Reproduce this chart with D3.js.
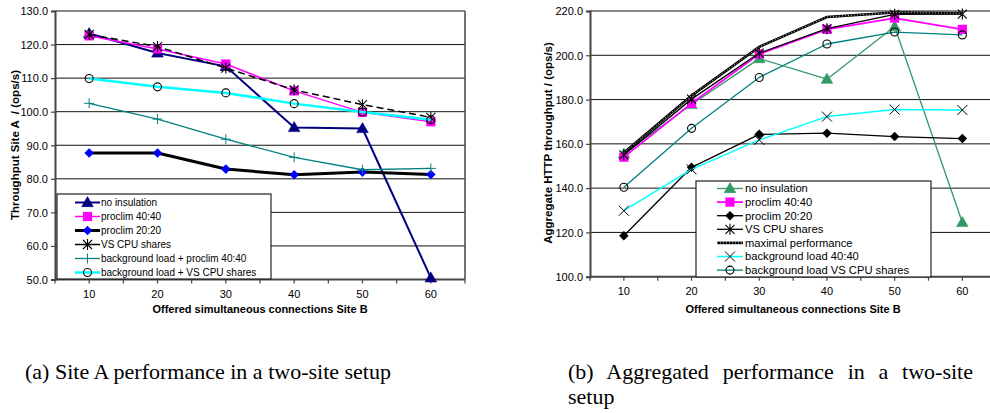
<!DOCTYPE html>
<html>
<head>
<meta charset="utf-8">
<script src="https://cdn.jsdelivr.net/npm/d3@7"></script>
<style>
  html, body { margin: 0; padding: 0; background: #fff; }
  svg { display: block; }
  .tick-label { font-family: Arial, "Liberation Sans", sans-serif; font-size: 11px; fill: #000; }
  .axis-title { font-family: Arial, "Liberation Sans", sans-serif; font-size: 11px; font-weight: bold; fill: #000; white-space: pre; }
  .legend-text { font-family: Arial, "Liberation Sans", sans-serif; fill: #000; }
  .caption { font-family: "Times New Roman", "Liberation Serif", serif; font-size: 22px; fill: #000; }
</style>
</head>
<body>
<svg id="chart" width="990" height="413"></svg>
<script>
// Offered simultaneous connections at Site B
const categories = [10, 20, 30, 40, 50, 60];

// (a) Throughput at Site A (ops/s)
const aNoInsulation = [123.3, 117.5, 113.5, 95.3, 95.0, 50.5];
const aProclim4040  = [122.6, 118.7, 114.2, 106.2, 99.8, 97.0];
const aProclim2020  = [87.7, 87.7, 82.9, 81.2, 82.0, 81.3];
const aVsCpuShares  = [123.0, 119.4, 113.0, 106.5, 102.1, 98.3];
const aBgProclim    = [102.5, 97.8, 91.8, 86.4, 82.7, 83.1];
const aBgVsCpu      = [109.9, 107.4, 105.6, 102.4, 99.9, 97.6];

// (b) Aggregate HTTP throughput (ops/s)
const bNoInsulation = [155.5, 177.8, 198.5, 189.2, 213.0, 124.5];
const bProclim4040  = [154.0, 178.3, 200.6, 211.7, 216.8, 211.7];
const bProclim2020  = [118.5, 149.4, 164.3, 164.8, 163.3, 162.4];
const bVsCpuShares  = [155.0, 180.2, 201.0, 212.0, 218.5, 218.6];
const bMaximal      = [156.0, 181.8, 203.8, 217.3, 219.3, 219.0];
const bBgLoad4040   = [129.8, 148.5, 161.8, 172.3, 175.5, 175.3];
const bBgVsCpu      = [140.4, 167.0, 190.0, 205.1, 210.5, 209.2];

// Axis tick values
const aTicks = [50, 60, 70, 80, 90, 100, 110, 120, 130];
const bTicks = [100, 120, 140, 160, 180, 200, 220];

const svg = d3.select("#chart");
svg.append("rect").attr("width", 990).attr("height", 413).attr("fill", "#fff");

// ---------- marker shapes ----------
function drawMarker(g, type, x, y, color) {
  const s = 4.6;
  switch (type) {
    case "triangle":
      g.append("path").attr("d", d3.symbol(d3.symbolTriangle, 58)()).attr("transform", `translate(${x},${y + 0.8})`)
        .attr("fill", color).attr("stroke", color).attr("stroke-width", 0.6);
      break;
    case "square":
      g.append("rect").attr("x", x - s).attr("y", y - s).attr("width", 2 * s).attr("height", 2 * s).attr("fill", color);
      break;
    case "diamond":
      g.append("path").attr("d", `M${x},${y - 4.8}L${x + 4.8},${y}L${x},${y + 4.8}L${x - 4.8},${y}Z`).attr("fill", color);
      break;
    case "asterisk":
      g.append("path").attr("d", `M${x - 4.5},${y - 4.5}L${x + 4.5},${y + 4.5}M${x - 4.5},${y + 4.5}L${x + 4.5},${y - 4.5}M${x},${y - 5.5}L${x},${y + 5.5}`)
        .attr("stroke", color).attr("stroke-width", 1.1).attr("fill", "none");
      break;
    case "plus":
      g.append("path").attr("d", `M${x - 5},${y}L${x + 5},${y}M${x},${y - 5}L${x},${y + 5}`)
        .attr("stroke", color).attr("stroke-width", 1).attr("fill", "none");
      break;
    case "cross":
      g.append("path").attr("d", `M${x - 5},${y - 5}L${x + 5},${y + 5}M${x - 5},${y + 5}L${x + 5},${y - 5}`)
        .attr("stroke", color).attr("stroke-width", 1).attr("fill", "none");
      break;
    case "circle":
      g.append("circle").attr("cx", x).attr("cy", y).attr("r", 4).attr("fill", "none")
        .attr("stroke", color).attr("stroke-width", 1.1);
      break;
  }
}

function drawLine(g, pts, st, inLegend) {
  const line = d3.line().x(d => d[0]).y(d => d[1]);
  if (st.dotted) {
    g.append("path").attr("d", line(pts)).attr("fill", "none").attr("stroke", "#000").attr("stroke-width", 2.6);
    g.append("path").attr("d", line(pts)).attr("fill", "none").attr("stroke", "#fff").attr("stroke-width", 0.8)
      .attr("stroke-dasharray", "1,2");
  } else {
    g.append("path").attr("d", line(pts)).attr("fill", "none").attr("stroke", st.color)
      .attr("stroke-width", st.width).attr("stroke-dasharray", (!inLegend && st.dash) || null)
      .attr("stroke-linejoin", "round");
  }
}

// ---------- one chart panel ----------
function panel(cfg) {
  const g = svg.append("g");
  const x = d3.scaleBand().domain(categories).range([cfg.left, cfg.left + cfg.band * categories.length]);
  const y = d3.scaleLinear().domain(cfg.domain).range([cfg.bottom, cfg.top]);
  const cx = c => x(c) + x.bandwidth() / 2;

  // horizontal gridlines
  g.append("g").selectAll("line").data(cfg.ticks.slice(1)).join("line")
    .attr("x1", cfg.left).attr("x2", cfg.gridRight)
    .attr("y1", d => y(d)).attr("y2", d => y(d))
    .attr("stroke", "#111").attr("stroke-width", 1);

  if (cfg.frame) {
    g.append("line").attr("x1", cfg.gridRight).attr("x2", cfg.gridRight)
      .attr("y1", cfg.top).attr("y2", cfg.bottom).attr("stroke", "#444").attr("stroke-width", 1.5);
  }

  // y axis
  const ya = d3.axisLeft(y).tickValues(cfg.ticks).tickSize(4).tickFormat(d3.format(".1f"));
  const yg = g.append("g").attr("transform", `translate(${cfg.left},0)`).call(ya);
  yg.attr("font-size", null).attr("font-family", null);
  yg.select(".domain").attr("stroke", "#444").attr("stroke-width", 2);
  yg.selectAll(".tick line").attr("stroke", "#444").attr("stroke-width", 1.2);
  yg.selectAll(".tick text").attr("class", "tick-label").attr("x", -7).attr("dy", "0.34em");

  // x axis: ticks at every half category, labels at category centres
  const xg = g.append("g").attr("transform", `translate(0,${cfg.bottom})`);
  const tickXs = [];
  for (let i = 0; i <= categories.length * 2; i++) tickXs.push(cfg.left + i * cfg.band / 2);
  xg.append("line").attr("x1", cfg.left).attr("x2", cfg.left + cfg.band * categories.length)
    .attr("stroke", "#444").attr("stroke-width", 2);
  xg.selectAll("line.tk").data(tickXs).join("line").attr("class", "tk")
    .attr("x1", d => d).attr("x2", d => d).attr("y1", 0).attr("y2", 4)
    .attr("stroke", "#444").attr("stroke-width", 1.2);
  xg.selectAll("text").data(categories).join("text").attr("class", "tick-label")
    .attr("x", d => cx(d)).attr("y", 18.5).attr("text-anchor", "middle").text(d => d);

  // axis titles
  g.append("text").attr("class", "axis-title").attr("x", cfg.xTitleX).attr("y", 313)
    .attr("text-anchor", "middle").text(cfg.xTitle);
  g.append("text").attr("class", "axis-title").style("font-size", cfg.yTitleSize + "px")
    .attr("transform", `translate(${cfg.yTitleX},${cfg.yTitleY}) rotate(-90)`)
    .attr("text-anchor", "middle").text(cfg.yTitle);

  // series
  const sg = g.append("g");
  cfg.series.forEach(s => {
    const pts = categories.map((c, i) => [cx(c), y(s.values[i])]);
    drawLine(sg, pts, s, false);
    if (s.marker) pts.forEach(p => drawMarker(sg, s.marker, p[0], p[1], s.markerColor));
  });

  // legend
  const L = cfg.legend;
  const lg = g.append("g");
  lg.append("rect").attr("x", L.x).attr("y", L.y).attr("width", L.w).attr("height", L.h)
    .attr("fill", "#fff").attr("stroke", "#222").attr("stroke-width", 1.2);
  cfg.series.forEach((s, i) => {
    const ry = L.row0 + i * L.step;
    drawLine(lg, [[L.sx0, ry], [L.sx1, ry]], s, true);
    if (s.marker) drawMarker(lg, s.marker, (L.sx0 + L.sx1) / 2, ry, s.markerColor);
    lg.append("text").attr("class", "legend-text").style("font-size", L.font + "px")
      .attr("x", L.tx).attr("y", ry).attr("dy", "0.35em").text(s.name);
  });
}

panel({
  left: 55, band: 68.33, top: 11, bottom: 279.5, gridRight: 465, frame: true,
  domain: [50, 130], ticks: aTicks,
  xTitle: "Offered simultaneous connections Site B", xTitleX: 260,
  yTitle: "Throughput Site A  / (ops/s)", yTitleX: 19, yTitleY: 145, yTitleSize: 11.5,
  series: [
    { name: "no insulation", values: aNoInsulation, color: "#000080", width: 2, marker: "triangle", markerColor: "#000080" },
    { name: "proclim 40:40", values: aProclim4040, color: "#ff00ff", width: 1.5, marker: "square", markerColor: "#ff00ff" },
    { name: "proclim 20:20", values: aProclim2020, color: "#000", width: 3, marker: "diamond", markerColor: "#0000ff" },
    { name: "VS CPU shares", values: aVsCpuShares, color: "#000", width: 1.5, dash: "7,4", marker: "asterisk", markerColor: "#000" },
    { name: "background load + proclim 40:40", values: aBgProclim, color: "#008080", width: 1.3, marker: "plus", markerColor: "#008080" },
    { name: "background load + VS CPU shares", values: aBgVsCpu, color: "#00ffff", width: 2.5, marker: "circle", markerColor: "#000" }
  ],
  legend: { x: 57, y: 194, w: 214, h: 85, row0: 202.5, step: 14, sx0: 75, sx1: 100, tx: 101, font: 10 }
});

panel({
  left: 590, band: 67.7, top: 11, bottom: 276.7, gridRight: 990, frame: false,
  domain: [100, 220], ticks: bTicks,
  xTitle: "Offered simultaneous connections Site B", xTitleX: 793,
  yTitle: "Aggregate HTTP throughput / (ops/s)", yTitleX: 552, yTitleY: 143, yTitleSize: 11.5,
  series: [
    { name: "no insulation", values: bNoInsulation, color: "#339966", width: 1.3, marker: "triangle", markerColor: "#339966" },
    { name: "proclim 40:40", values: bProclim4040, color: "#ff00ff", width: 1.8, marker: "square", markerColor: "#ff00ff" },
    { name: "proclim 20:20", values: bProclim2020, color: "#000", width: 1.3, marker: "diamond", markerColor: "#000" },
    { name: "VS CPU shares", values: bVsCpuShares, color: "#000", width: 1.3, marker: "asterisk", markerColor: "#000" },
    { name: "maximal performance", values: bMaximal, dotted: true },
    { name: "background load 40:40", values: bBgLoad4040, color: "#00ffff", width: 1.5, marker: "cross", markerColor: "#000" },
    { name: "background load VS CPU shares", values: bBgVsCpu, color: "#008080", width: 1.3, marker: "circle", markerColor: "#000" }
  ],
  legend: { x: 696, y: 181, w: 235, h: 96, row0: 188.5, step: 13.6, sx0: 717, sx1: 743, tx: 745, font: 11.2 }
});

// ---------- sub-figure captions ----------
svg.append("text").attr("class", "caption").attr("x", 25).attr("y", 379)
  .text("(a) Site A performance in a two-site setup");
const capB = svg.append("text").attr("class", "caption").attr("x", 568).attr("y", 379)
  .text("(b) Aggregated performance in a two-site");
svg.append("text").attr("class", "caption").attr("x", 568).attr("y", 404).text("setup");

// first line of caption (b) is justified to the column width
const natB = capB.node().getComputedTextLength();
const gaps = capB.text().split(" ").length - 1;
capB.attr("word-spacing", (405 - natB) / gaps);
</script>
</body>
</html>
